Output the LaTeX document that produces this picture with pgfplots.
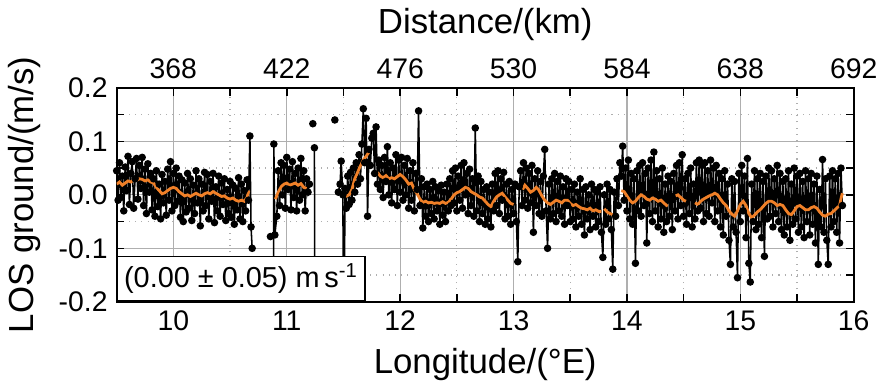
\documentclass[border=0pt]{standalone}
\usepackage{fontspec}
\setmainfont{Liberation Sans}
\usepackage{pgfplots}
\pgfplotsset{compat=1.18}
\definecolor{smoothorange}{RGB}{240,128,40}
\definecolor{gridgray}{RGB}{175,175,175}

\pgfplotsset{
  losframe/.style={
    scale only axis, width=286pt, height=83pt,
    tick label style={font=\fontsize{11}{13}\selectfont},
    label style={font=\fontsize{13.5}{16}\selectfont},
    /pgf/number format/assume math mode=true,
  }
}

\begin{document}
\begin{tikzpicture}
\begin{axis}[
  losframe,
  xmin=9.5, xmax=16, ymin=-0.2, ymax=0.2,
  xtick={10,...,16}, minor x tick num=1,
  ytick={-0.2,-0.1,0,0.1,0.2}, minor y tick num=1,
  tick align=inside, xtick pos=both, ytick pos=both,
  major tick length=3pt, minor tick length=3pt,
  grid=both,
  major grid style={gridgray, line width=0.5pt},
  minor grid style={gridgray, dotted, line width=0.5pt},
  axis line style={line width=0.9pt},
  tick style={black, line width=0.6pt},
  yticklabel style={/pgf/number format/.cd, fixed, fixed zerofill, precision=1},
  xlabel={Longitude/(°E)},
  ylabel={LOS ground/(m/s)},
  unbounded coords=jump,
]
% measured points (black)
\addplot[black, line width=0.6pt, mark=*, mark size=1.15pt, mark options={fill=black}] coordinates {
(9.5000,0.045)(9.5125,-0.010)(9.5250,0.060)(9.5375,-0.005)(9.5500,0.035)(9.5625,-0.030)(9.5750,0.052)(9.5875,0.008)
(9.6000,0.072)(9.6125,-0.018)(9.6250,0.040)(9.6375,0.062)(9.6500,-0.025)(9.6625,0.030)(9.6750,0.068)(9.6875,-0.008)
(9.7000,0.055)(9.7125,0.012)(9.7250,0.070)(9.7375,-0.020)(9.7500,0.048)(9.7625,-0.035)(9.7750,0.058)(9.7875,0.005)
(9.8000,0.040)(9.8125,-0.028)(9.8250,0.030)(9.8375,-0.040)(9.8500,0.045)(9.8625,-0.022)(9.8750,0.020)(9.8875,-0.045)
(9.9000,0.038)(9.9125,-0.015)(9.9250,0.025)(9.9375,-0.038)(9.9500,0.048)(9.9625,-0.010)(9.9750,0.062)(9.9875,-0.030)
(10.0000,0.040)(10.0125,-0.020)(10.0250,0.050)(10.0375,-0.012)(10.0500,0.035)(10.0625,-0.042)(10.0750,0.028)(10.0875,-0.050)
(10.1000,0.022)(10.1125,-0.032)(10.1250,0.040)(10.1375,-0.025)(10.1500,0.030)(10.1625,-0.048)(10.1750,0.018)(10.1875,-0.035)
(10.2000,0.045)(10.2125,-0.015)(10.2250,0.030)(10.2375,-0.058)(10.2500,0.020)(10.2625,-0.030)(10.2750,0.042)(10.2875,-0.020)
(10.3000,0.038)(10.3125,-0.045)(10.3250,0.025)(10.3375,-0.012)(10.3500,0.040)(10.3625,-0.052)(10.3750,0.015)(10.3875,-0.030)
(10.4000,0.035)(10.4125,-0.040)(10.4250,0.022)(10.4375,-0.018)(10.4500,0.030)(10.4625,-0.048)(10.4750,0.010)(10.4875,-0.035)
(10.5000,0.025)(10.5125,-0.042)(10.5250,0.018)(10.5375,-0.055)(10.5500,0.012)(10.5625,-0.028)(10.5750,0.032)(10.5875,-0.045)
(10.6000,0.020)(10.6125,-0.050)(10.6250,0.008)(10.6375,-0.030)(10.6500,0.028)(10.6625,-0.010)(10.6750,0.110)(10.6850,-0.060)
(10.6950,-0.100)(10.7000,nan)
(10.8560,-0.078)(10.8600,nan)
(10.8800,-0.500)(10.8860,0.095)(10.8950,-0.075)
(10.9125,-0.040)(10.9250,0.045)(10.9375,-0.020)(10.9500,0.060)(10.9625,0.000)(10.9750,0.055)(10.9875,-0.025)(11.0000,0.070)
(11.0125,0.010)(11.0250,0.048)(11.0375,-0.028)(11.0500,0.062)(11.0625,-0.005)(11.0750,0.040)(11.0875,-0.030)(11.1000,0.050)
(11.1125,-0.010)(11.1250,0.068)(11.1375,0.000)(11.1500,0.045)(11.1625,-0.030)(11.1750,0.030)(11.1875,0.005)(11.2000,0.020)
(11.2100,nan)
(11.2300,0.133)(11.2350,nan)
(11.2440,0.088)(11.2500,-0.500)(11.2600,nan)
(11.4240,0.140)(11.4300,nan)
(11.4550,0.005)(11.4700,0.020)(11.4800,0.063)(11.4950,0.000)(11.5050,-0.500)(11.5125,0.012)
(11.5250,-0.025)(11.5375,0.035)(11.5500,-0.018)(11.5625,0.042)(11.5750,-0.010)(11.5875,0.050)(11.6000,0.005)(11.6125,0.060)
(11.6250,0.020)(11.6375,0.075)(11.6500,0.030)(11.6625,0.095)(11.6750,0.161)(11.6875,0.060)(11.7000,0.143)(11.7125,-0.040)
(11.7250,0.085)(11.7375,0.055)(11.7500,0.106)(11.7625,0.115)(11.7750,0.040)(11.7875,0.127)(11.8000,0.020)(11.8125,0.065)
(11.8250,0.010)(11.8375,0.055)(11.8500,-0.005)(11.8625,0.070)(11.8750,0.025)(11.8875,0.090)(11.9000,0.000)(11.9125,0.060)
(11.9250,-0.015)(11.9375,0.050)(11.9500,0.010)(11.9625,0.075)(11.9750,-0.020)(11.9875,0.065)(12.0000,0.005)(12.0125,0.070)
(12.0250,-0.010)(12.0375,0.055)(12.0500,0.000)(12.0625,0.068)(12.0750,-0.025)(12.0875,0.045)(12.1000,-0.010)(12.1125,0.060)
(12.1250,-0.030)(12.1375,0.040)(12.1500,0.010)(12.1625,0.157)(12.1750,-0.020)(12.1875,0.030)(12.2000,-0.062)(12.2125,0.015)
(12.2250,-0.040)(12.2375,0.020)(12.2500,-0.050)(12.2625,0.010)(12.2750,-0.035)(12.2875,0.025)(12.3000,-0.045)(12.3125,0.015)
(12.3250,-0.030)(12.3375,0.008)(12.3500,-0.055)(12.3625,0.018)(12.3750,-0.038)(12.3875,0.005)(12.4000,-0.050)(12.4125,0.020)
(12.4250,-0.030)(12.4375,0.030)(12.4500,-0.020)(12.4625,0.045)(12.4750,-0.015)(12.4875,0.050)(12.5000,-0.030)(12.5125,0.035)
(12.5250,-0.010)(12.5375,0.055)(12.5500,-0.025)(12.5625,0.060)(12.5750,0.000)(12.5875,0.040)(12.6000,-0.035)(12.6125,0.048)
(12.6250,-0.020)(12.6375,0.030)(12.6500,-0.040)(12.6625,0.125)(12.6750,-0.030)(12.6875,0.035)(12.7000,-0.050)(12.7125,0.025)
(12.7250,-0.035)(12.7375,0.010)(12.7500,-0.055)(12.7625,0.015)(12.7750,-0.045)(12.7875,0.005)(12.8000,-0.060)(12.8125,0.020)
(12.8250,-0.030)(12.8375,0.040)(12.8500,-0.020)(12.8625,0.045)(12.8750,-0.035)(12.8875,0.030)(12.9000,-0.010)(12.9125,0.042)
(12.9250,-0.045)(12.9375,0.020)(12.9500,-0.040)(12.9625,0.025)(12.9750,-0.055)(12.9875,0.010)(13.0000,-0.035)(13.0125,0.020)
(13.0250,-0.050)(13.0375,-0.125)(13.0500,0.015)(13.0625,0.045)(13.0750,-0.020)(13.0875,0.060)(13.1000,-0.010)(13.1125,0.050)
(13.1250,-0.025)(13.1375,0.040)(13.1500,-0.015)(13.1625,0.055)(13.1750,-0.070)(13.1875,0.030)(13.2000,-0.020)(13.2125,0.045)
(13.2250,-0.035)(13.2375,0.025)(13.2500,-0.040)(13.2625,0.035)(13.2750,0.085)(13.2875,-0.030)(13.3000,-0.100)(13.3125,0.020)
(13.3250,-0.045)(13.3375,0.030)(13.3500,-0.035)(13.3625,0.040)(13.3750,-0.050)(13.3875,0.025)(13.4000,-0.030)(13.4125,0.035)
(13.4250,-0.040)(13.4375,0.015)(13.4500,-0.055)(13.4625,0.030)(13.4750,-0.020)(13.4875,0.025)(13.5000,-0.050)(13.5125,0.010)
(13.5250,-0.045)(13.5375,0.020)(13.5500,-0.060)(13.5625,0.005)(13.5750,-0.040)(13.5875,0.030)(13.6000,-0.055)(13.6125,0.010)
(13.6250,-0.075)(13.6375,0.015)(13.6500,-0.045)(13.6625,0.000)(13.6750,-0.065)(13.6875,0.020)(13.7000,-0.040)(13.7125,0.010)
(13.7250,-0.060)(13.7375,0.005)(13.7500,-0.050)(13.7625,0.015)(13.7750,-0.070)(13.7875,-0.117)(13.8000,0.000)(13.8125,-0.055)
(13.8250,0.020)(13.8375,-0.045)(13.8500,0.010)(13.8625,-0.065)(13.8750,-0.139)(13.8875,0.005)(13.9000,-0.040)(13.9125,0.030)
(13.9250,-0.020)(13.9375,0.060)(13.9500,0.035)(13.9625,0.091)(13.9750,-0.010)(13.9875,0.050)(14.0000,-0.030)(14.0125,0.065)
(14.0250,-0.045)(14.0375,0.040)(14.0500,-0.055)(14.0625,0.030)(14.0750,-0.128)(14.0875,0.045)(14.1000,-0.030)(14.1125,0.055)
(14.1250,-0.040)(14.1375,0.060)(14.1500,-0.020)(14.1625,0.040)(14.1750,-0.090)(14.1875,0.050)(14.2000,-0.035)(14.2125,0.065)
(14.2250,-0.050)(14.2375,0.080)(14.2500,-0.030)(14.2625,0.045)(14.2750,-0.060)(14.2875,0.030)(14.3000,-0.045)(14.3125,0.050)
(14.3250,-0.070)(14.3375,0.020)(14.3500,-0.050)(14.3625,0.035)(14.3750,-0.040)(14.3875,0.025)(14.4000,-0.065)(14.4125,0.040)
(14.4250,-0.030)(14.4375,0.055)(14.4500,-0.045)(14.4625,0.060)(14.4750,-0.020)(14.4875,0.075)(14.5000,-0.040)(14.5125,0.030)
(14.5250,-0.055)(14.5375,0.040)(14.5500,-0.035)(14.5625,0.050)(14.5750,-0.060)(14.5875,0.020)(14.6000,-0.045)(14.6125,0.060)
(14.6250,-0.030)(14.6375,0.065)(14.6500,-0.025)(14.6625,0.055)(14.6750,-0.050)(14.6875,0.060)(14.7000,-0.035)(14.7125,0.045)
(14.7250,-0.040)(14.7375,0.065)(14.7500,-0.015)(14.7625,0.050)(14.7750,-0.050)(14.7875,0.055)(14.8000,-0.030)(14.8125,0.040)
(14.8250,-0.060)(14.8375,0.030)(14.8500,-0.075)(14.8625,0.045)(14.8750,-0.040)(14.8875,0.020)(14.9000,-0.085)(14.9125,-0.130)
(14.9250,0.030)(14.9375,-0.060)(14.9500,0.025)(14.9625,-0.070)(14.9750,-0.155)(14.9875,0.040)(15.0000,-0.050)(15.0125,0.055)
(15.0250,-0.030)(15.0375,0.035)(15.0500,-0.080)(15.0625,0.068)(15.0750,-0.128)(15.0875,-0.163)(15.1000,0.020)(15.1125,-0.050)
(15.1250,0.045)(15.1375,-0.065)(15.1500,0.030)(15.1625,-0.055)(15.1750,0.040)(15.1875,-0.080)(15.2000,0.025)(15.2125,-0.115)
(15.2250,0.035)(15.2375,-0.045)(15.2500,0.050)(15.2625,-0.040)(15.2750,0.045)(15.2875,-0.060)(15.3000,0.030)(15.3125,-0.035)
(15.3250,0.055)(15.3375,-0.050)(15.3500,0.040)(15.3625,-0.065)(15.3750,0.025)(15.3875,-0.075)(15.4000,0.030)(15.4125,-0.060)
(15.4250,0.045)(15.4375,-0.085)(15.4500,0.020)(15.4625,-0.055)(15.4750,0.050)(15.4875,-0.045)(15.5000,0.035)(15.5125,-0.070)
(15.5250,0.040)(15.5375,-0.060)(15.5500,0.025)(15.5625,-0.080)(15.5750,0.045)(15.5875,-0.050)(15.6000,0.030)(15.6125,-0.075)
(15.6250,0.040)(15.6375,-0.055)(15.6500,0.020)(15.6625,-0.090)(15.6750,0.035)(15.6875,-0.130)(15.7000,0.010)(15.7125,-0.060)
(15.7250,0.066)(15.7375,-0.070)(15.7500,0.030)(15.7625,-0.085)(15.7750,-0.130)(15.7875,0.035)(15.8000,-0.060)(15.8125,0.045)
(15.8250,-0.050)(15.8375,0.030)(15.8500,-0.070)(15.8625,0.040)(15.8750,-0.090)(15.8875,0.050)(15.9000,-0.020)
};
% running mean (orange)
\addplot[smoothorange, line width=1.1pt] coordinates {
(9.500,0.020)(9.525,0.024)(9.550,0.018)(9.575,0.022)(9.600,0.026)(9.625,0.024)(9.650,0.028)(9.675,0.027)
(9.700,0.030)(9.725,0.029)(9.750,0.026)(9.775,0.028)(9.800,0.024)(9.825,0.022)(9.850,0.014)(9.875,0.008)
(9.900,0.002)(9.925,0.004)(9.950,0.008)(9.975,0.012)(10.000,0.014)(10.025,0.012)(10.050,0.006)(10.075,0.002)
(10.100,-0.002)(10.125,0.000)(10.150,-0.003)(10.175,0.000)(10.200,0.003)(10.225,0.000)(10.250,-0.002)(10.275,0.002)
(10.300,0.004)(10.325,0.002)(10.350,0.006)(10.375,0.003)(10.400,0.000)(10.425,-0.003)(10.450,-0.002)(10.475,-0.006)
(10.500,-0.008)(10.525,-0.006)(10.550,-0.010)(10.575,-0.012)(10.600,-0.010)(10.625,-0.012)(10.650,-0.005)(10.665,0.008)
(10.700,nan)
(10.900,-0.008)(10.925,0.005)(10.950,0.015)(10.975,0.020)(11.000,0.022)(11.025,0.018)(11.050,0.020)(11.075,0.022)
(11.100,0.018)(11.125,0.021)(11.150,0.014)(11.175,0.012)
(11.300,nan)
(11.520,-0.003)(11.550,0.000)(11.575,0.010)(11.600,0.030)(11.625,0.042)(11.650,0.055)(11.675,0.065)(11.700,0.072)(11.725,0.080)
(11.760,nan)
(11.800,0.042)(11.825,0.035)(11.850,0.032)(11.875,0.036)(11.900,0.030)(11.925,0.032)(11.950,0.030)(11.975,0.034)
(12.000,0.038)(12.025,0.034)(12.050,0.028)(12.075,0.020)(12.100,0.022)(12.125,0.010)(12.150,0.002)(12.175,-0.008)
(12.200,-0.014)(12.225,-0.012)(12.250,-0.015)(12.275,-0.014)(12.300,-0.016)(12.325,-0.015)(12.350,-0.016)(12.375,-0.013)
(12.400,-0.016)(12.425,-0.014)(12.450,-0.008)(12.475,0.000)(12.500,0.004)(12.525,0.006)(12.550,0.010)(12.575,0.014)
(12.600,0.012)(12.625,0.006)(12.650,0.003)(12.675,0.000)(12.700,-0.004)(12.725,-0.006)(12.750,-0.012)(12.775,-0.018)
(12.800,-0.022)(12.825,-0.012)(12.850,-0.004)(12.875,0.000)(12.900,0.003)(12.925,-0.004)(12.950,-0.010)(12.975,-0.016)
(13.000,-0.018)
(13.040,nan)
(13.080,0.010)(13.100,0.018)(13.125,0.012)(13.150,0.005)(13.175,0.008)(13.200,0.014)(13.220,0.010)(13.250,-0.002)
(13.275,-0.010)(13.300,-0.015)(13.325,-0.018)(13.350,-0.014)(13.375,-0.010)(13.400,-0.012)(13.425,-0.015)(13.450,-0.010)
(13.475,-0.010)(13.500,-0.016)(13.525,-0.020)(13.550,-0.018)(13.575,-0.022)(13.600,-0.025)(13.625,-0.026)(13.650,-0.028)
(13.675,-0.025)(13.700,-0.030)(13.725,-0.028)(13.750,-0.031)(13.775,-0.031)
(13.790,nan)
(13.800,-0.026)(13.825,-0.032)(13.850,-0.035)(13.875,-0.037)
(13.910,nan)
(13.950,0.008)(13.975,0.006)(14.000,-0.002)(14.025,-0.010)(14.050,-0.015)(14.075,-0.012)(14.100,-0.005)(14.125,0.000)
(14.150,-0.003)(14.175,-0.008)(14.200,-0.010)(14.225,-0.006)(14.250,-0.008)(14.275,-0.012)(14.300,-0.010)(14.325,-0.015)
(14.350,-0.020)(14.360,-0.021)
(14.400,nan)
(14.430,-0.002)(14.450,0.000)(14.475,-0.005)(14.500,-0.010)(14.520,-0.012)
(14.560,nan)
(14.600,-0.015)(14.625,-0.018)(14.650,-0.012)(14.675,-0.008)(14.700,-0.005)(14.725,-0.002)(14.750,0.000)(14.775,0.003)
(14.800,0.000)(14.825,-0.008)(14.850,-0.015)(14.875,-0.020)(14.900,-0.030)(14.925,-0.036)(14.950,-0.040)(14.975,-0.030)
(15.000,-0.018)(15.025,-0.012)(15.050,-0.020)(15.075,-0.035)(15.100,-0.043)(15.125,-0.038)(15.150,-0.032)(15.175,-0.028)
(15.200,-0.022)(15.225,-0.016)(15.250,-0.012)(15.275,-0.012)(15.300,-0.015)(15.325,-0.020)(15.350,-0.018)(15.375,-0.020)
(15.400,-0.028)(15.425,-0.035)(15.450,-0.037)(15.475,-0.030)(15.500,-0.022)(15.525,-0.020)(15.550,-0.024)(15.575,-0.028)
(15.600,-0.028)(15.625,-0.024)(15.650,-0.022)(15.675,-0.025)(15.700,-0.032)(15.725,-0.038)(15.750,-0.040)(15.775,-0.036)
(15.800,-0.035)(15.825,-0.030)(15.850,-0.025)(15.875,-0.020)(15.890,-0.005)(15.900,0.003)
};
\node[draw, line width=0.6pt, fill=white, anchor=south west, inner sep=0pt,
      minimum width=96pt, minimum height=17.3pt,
      font=\fontsize{11.2}{13}\selectfont]
  at (rel axis cs:0,0) {(0.00 ± 0.05) m\,s\textsuperscript{-1}};
\end{axis}
% top distance scale
\begin{axis}[
  losframe,
  xmin=341, xmax=692, ymin=0, ymax=1,
  axis x line*=top, axis y line=none,
  axis line style={draw=none},
  xtick={368,422,476,530,584,638,692},
  x tick style={draw=none},
  xlabel={Distance/(km)},
]
\addplot[draw=none] coordinates {(400,0.5)};
\end{axis}
\end{tikzpicture}
\end{document}
